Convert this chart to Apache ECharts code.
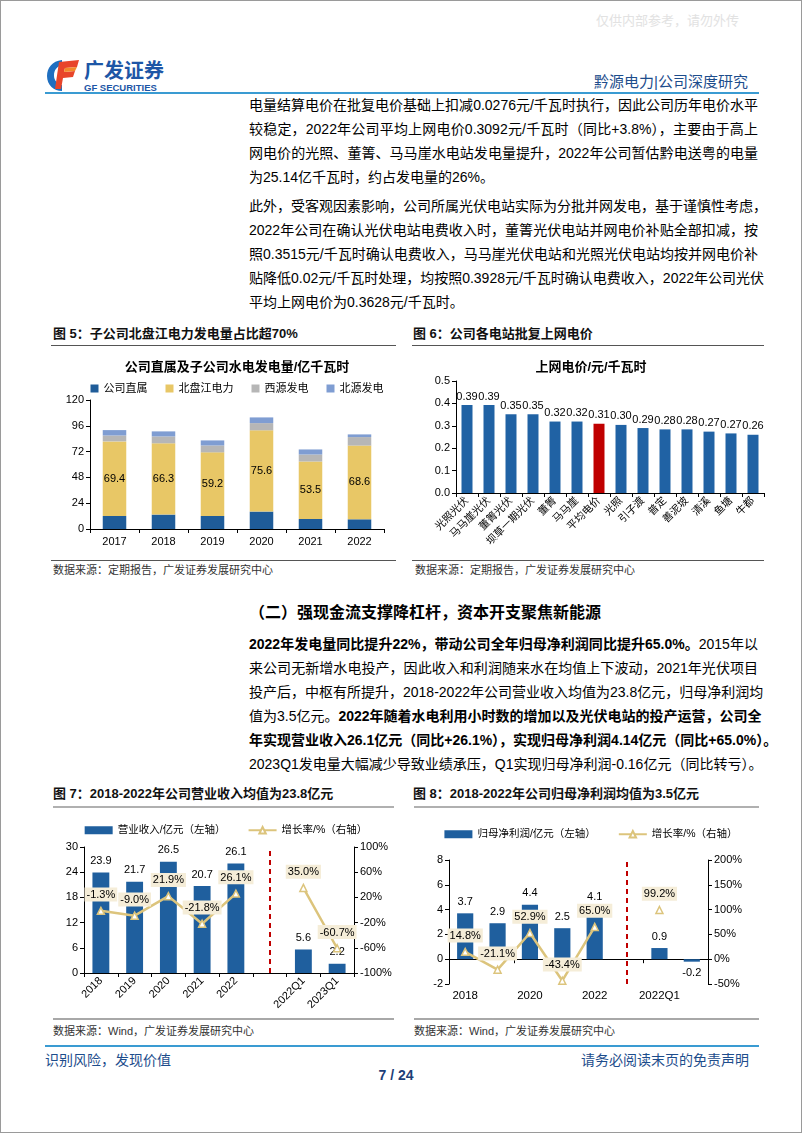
<!DOCTYPE html>
<html><head><meta charset="utf-8">
<script src="https://cdn.jsdelivr.net/npm/echarts@6/dist/echarts.min.js"></script>
<style>
body{margin:0;background:#fff;}
#page{position:relative;width:802px;height:1133px;overflow:hidden;font-family:"Liberation Sans","Noto Sans CJK SC",sans-serif;color:#000;box-sizing:border-box;border:1px solid #9a9a9a;}
.a{position:absolute;}
.ln{position:absolute;left:248px;width:509px;font-size:14px;line-height:20px;height:20px;white-space:nowrap;text-align:justify;text-align-last:justify;}
.ln.last{text-align:left;text-align-last:left;}
.cap{position:absolute;font-size:13px;font-weight:bold;line-height:16px;white-space:nowrap;color:#111;}
.src{position:absolute;font-size:11px;line-height:14px;color:#333;white-space:nowrap;}
.hl{position:absolute;height:0;}
.chart{position:absolute;}
</style></head>
<body>
<div id="page">
  <div class="a" style="left:595px;top:9px;font-size:13px;color:#e2e2e2;white-space:nowrap;">仅供内部参考，请勿外传</div>
  <!-- logo -->
  <svg class="a" style="left:44px;top:55px" width="124" height="38" viewBox="0 0 124 38">
    <path d="M17 4 C7 5 2 12 2 20 C2 29 9 35 17 35 L17 29 C12 28 9 24 9 19.5 C9 14 12 10 17 9.5 Z" fill="#1f6fc0"/>
    <path d="M14 6 L34 4 L32 11 L20 12 L19 16 L30 15 L28 21 L18 22 L16 33 L10 33 Z" fill="#e8452a"/>
    <path d="M20 12 L32 11 L30 15 L19 16 Z" fill="#f28a2a"/>
    <text x="39" y="22" font-size="20" font-weight="bold" fill="#1d56a6" font-family="Noto Sans CJK SC">广发证券</text>
    <text x="39" y="35" font-size="9.5" font-weight="bold" fill="#1d56a6" font-family="Liberation Sans">GF SECURITIES</text>
  </svg>
  <div class="a" style="right:53px;top:69px;font-size:15px;color:#1d4d8c;white-space:nowrap;">黔源电力|公司深度研究</div>
  <div class="hl" style="left:44px;top:91px;width:714px;border-top:2px solid #3a9bd2;"></div>

  <div class="ln" style="top:94px">电量结算电价在批复电价基础上扣减0.0276元/千瓦时执行，因此公司历年电价水平</div>
  <div class="ln" style="top:118px">较稳定，2022年公司平均上网电价0.3092元/千瓦时（同比+3.8%），主要由于高上</div>
  <div class="ln" style="top:142px">网电价的光照、董箐、马马崖水电站发电量提升，2022年公司暂估黔电送粤的电量</div>
  <div class="ln last" style="top:166px">为25.14亿千瓦时，约占发电量的26%。</div>

  <div class="ln" style="top:195px">此外，受客观因素影响，公司所属光伏电站实际为分批并网发电，基于谨慎性考虑，</div>
  <div class="ln" style="top:219px">2022年公司在确认光伏电站电费收入时，董箐光伏电站并网电价补贴全部扣减，按</div>
  <div class="ln" style="top:243px">照0.3515元/千瓦时确认电费收入，马马崖光伏电站和光照光伏电站均按并网电价补</div>
  <div class="ln" style="top:267px">贴降低0.02元/千瓦时处理，均按照0.3928元/千瓦时确认电费收入，2022年公司光伏</div>
  <div class="ln last" style="top:291px">平均上网电价为0.3628元/千瓦时。</div>

  <div class="cap" style="left:52px;top:325px">图 5：子公司北盘江电力发电量占比超70%</div>
  <div class="cap" style="left:412px;top:325px">图 6：公司各电站批复上网电价</div>
  <div class="hl" style="left:50px;top:344px;width:345px;border-top:1px solid #555;"></div>
  <div class="hl" style="left:411px;top:344px;width:352px;border-top:1px solid #555;"></div>

  <div id="c5" class="chart" style="left:50px;top:350px;width:372px;height:205px;"></div>
  <div id="c6" class="chart" style="left:405px;top:350px;width:370px;height:205px;"></div>

  <div class="hl" style="left:50px;top:559px;width:345px;border-top:1px solid #555;"></div>
  <div class="hl" style="left:411px;top:559px;width:352px;border-top:1px solid #555;"></div>
  <div class="src" style="left:52px;top:562px">数据来源：定期报告，广发证券发展研究中心</div>
  <div class="src" style="left:414px;top:562px">数据来源：定期报告，广发证券发展研究中心</div>

  <div class="a" style="left:248px;top:602px;font-size:16px;font-weight:bold;line-height:20px;white-space:nowrap;">（二）强现金流支撑降杠杆，资本开支聚焦新能源</div>

  <div class="ln" style="top:633px"><b>2022年发电量同比提升22%，带动公司全年归母净利润同比提升65.0%。</b>2015年以</div>
  <div class="ln" style="top:657px">来公司无新增水电投产，因此收入和利润随来水在均值上下波动，2021年光伏项目</div>
  <div class="ln" style="top:681px">投产后，中枢有所提升，2018-2022年公司营业收入均值为23.8亿元，归母净利润均</div>
  <div class="ln" style="top:705px">值为3.5亿元。<b>2022年随着水电利用小时数的增加以及光伏电站的投产运营，公司全</b></div>
  <div class="ln" style="top:729px"><b>年实现营业收入26.1亿元（同比+26.1%），实现归母净利润4.14亿元（同比+65.0%）。</b></div>
  <div class="ln last" style="top:753px">2023Q1发电量大幅减少导致业绩承压，Q1实现归母净利润-0.16亿元（同比转亏）。</div>

  <div class="cap" style="left:52px;top:785px">图 7：2018-2022年公司营业收入均值为23.8亿元</div>
  <div class="cap" style="left:412px;top:785px">图 8：2018-2022年公司归母净利润均值为3.5亿元</div>
  <div class="hl" style="left:52px;top:805px;width:341px;border-top:2px solid #b0b0b0;"></div>
  <div class="hl" style="left:413px;top:805px;width:345px;border-top:2px solid #b0b0b0;"></div>

  <div id="c7" class="chart" style="left:50px;top:810px;width:350px;height:205px;"></div>
  <div id="c8" class="chart" style="left:405px;top:810px;width:370px;height:205px;"></div>

  <div class="hl" style="left:52px;top:1017px;width:341px;border-top:2px solid #a8a8a8;"></div>
  <div class="hl" style="left:413px;top:1017px;width:345px;border-top:2px solid #a8a8a8;"></div>
  <div class="src" style="left:52px;top:1023px">数据来源：Wind，广发证券发展研究中心</div>
  <div class="src" style="left:413px;top:1023px">数据来源：Wind，广发证券发展研究中心</div>

  <div class="hl" style="left:44px;top:1044px;width:714px;border-top:2px solid #3a9bd2;"></div>
  <div class="a" style="left:44px;top:1048px;font-size:14px;color:#1d4d8c;white-space:nowrap;">识别风险，发现价值</div>
  <div class="a" style="right:52px;top:1048px;font-size:14px;color:#1d4d8c;white-space:nowrap;">请务必阅读末页的免责声明</div>
  <div class="a" style="left:0;width:790px;top:1066px;text-align:center;font-size:14px;font-weight:bold;color:#1d3f78;">7 / 24</div>
</div>

<script>
// ---------- data ----------
// Figure 5: hydropower generation (亿千瓦时)
const years5 = ['2017','2018','2019','2020','2021','2022'];
const directOwned = [12.1, 13.4, 12.1, 16.2, 9.3, 9.0];
const beipanjiang = [69.4, 66.3, 59.2, 75.6, 53.5, 68.6];
const xiyuan = [5.5, 6.4, 6.4, 6.7, 6.5, 7.9];
const beiyuan = [5.0, 4.7, 4.7, 5.3, 4.7, 2.5];

// Figure 6: on-grid tariff (元/千瓦时)
const stations6 = ['光照光伏','马马崖光伏','董箐光伏','坝草一期光伏','董箐','马马崖','平均电价','光照','引子渡','普定','善泥坡','清溪','鱼塘','牛都'];
const prices6 = [0.3928, 0.3928, 0.3515, 0.3515, 0.319, 0.319, 0.3092, 0.304, 0.290, 0.284, 0.284, 0.274, 0.266, 0.260];
const highlight6 = '平均电价';

// Figure 7: revenue
const cats7 = ['2018','2019','2020','2021','2022','','2022Q1','2023Q1'];
const revenue7 = [23.9, 21.7, 26.5, 20.7, 26.1, null, 5.6, 2.2];
const revGrowth7 = [-1.3, -9.0, 21.9, -21.8, 26.1, null, 35.0, -60.7];
const rightTicks7 = [-100, -60, -20, 20, 60, 100];

// Figure 8: net profit
const cats8 = ['2018','2019','2020','2021','2022','','2022Q1','2023Q1'];
const profit8 = [3.7, 2.9, 4.4, 2.5, 4.1, null, 0.9, -0.2];
const profitGrowth8 = [14.8, -21.1, 52.9, -43.4, 65.0, null, 99.2, null];

// ---------- styles ----------
const FONT = '"Liberation Sans","Noto Sans CJK SC",sans-serif';
const BLUE = '#1f5f9e';
const GOLD = '#dcc47c';
const axisLine = {show: true, onZero: false, lineStyle: {color: '#000', width: 1}};
const axisTick = {show: true, length: 4, lineStyle: {color: '#000'}};
const lbl = (size) => ({fontSize: size, color: '#000', fontFamily: FONT});

// ---------- Figure 5 ----------
const c5 = echarts.init(document.getElementById('c5'), null, {renderer: 'canvas'});
c5.setOption({
  animation: false,
  textStyle: {fontFamily: FONT},
  title: {text: '公司直属及子公司水电发电量/亿千瓦时', left: 'center', top: 5,
    textStyle: {fontSize: 13, fontWeight: 'bold', color: '#000', fontFamily: FONT}},
  legend: {top: 27, left: 'center', icon: 'rect', itemWidth: 8, itemHeight: 8, itemGap: 18,
    textStyle: lbl(11)},
  grid: {left: 39, right: 39, top: 49, bottom: 27},
  xAxis: {type: 'category', data: years5, axisLine, axisTick, axisLabel: Object.assign({margin: 7}, lbl(11))},
  yAxis: {type: 'value', min: 0, max: 120, interval: 24, axisLine, axisTick,
    splitLine: {show: false}, axisLabel: Object.assign({margin: 6}, lbl(11))},
  series: [
    {name: '公司直属', type: 'bar', stack: 't', data: directOwned, barWidth: '48%', itemStyle: {color: '#1f5c99'}},
    {name: '北盘江电力', type: 'bar', stack: 't', data: beipanjiang, itemStyle: {color: '#e8c766'},
      label: {show: true, position: 'inside', formatter: p => p.value.toFixed(1), ...lbl(11)}},
    {name: '西源发电', type: 'bar', stack: 't', data: xiyuan, itemStyle: {color: '#b6b6b6'}},
    {name: '北源发电', type: 'bar', stack: 't', data: beiyuan, itemStyle: {color: '#7f9dd2'}}
  ]
});

// ---------- Figure 6 ----------
const c6 = echarts.init(document.getElementById('c6'));
c6.setOption({
  animation: false,
  textStyle: {fontFamily: FONT},
  title: {text: '上网电价/元/千瓦时', left: 'center', top: 5,
    textStyle: {fontSize: 13, fontWeight: 'bold', color: '#000', fontFamily: FONT}},
  grid: {left: 50, right: 12, top: 30, bottom: 63},
  xAxis: {type: 'category', data: stations6, axisLine, axisTick,
    axisLabel: Object.assign({rotate: 45, interval: 0, margin: 6}, lbl(10.5))},
  yAxis: {type: 'value', min: 0, max: 0.5, interval: 0.1, axisLine, axisTick,
    splitLine: {show: false}, axisLabel: Object.assign({margin: 6, formatter: v => v.toFixed(1)}, lbl(11))},
  series: [{
    type: 'bar', barWidth: '50%',
    data: prices6.map((v, i) => ({value: v, itemStyle: {color: stations6[i] === highlight6 ? '#c00000' : '#2062a4'}})),
    label: {show: true, position: 'top', distance: 3, formatter: p => p.value.toFixed(2), ...lbl(11)}
  }]
});

// ---------- Figure 7 ----------
const lineLabel = {show: true, position: 'top', distance: 5, formatter: p => p.value.toFixed(1) + '%',
  backgroundColor: '#f5edd8', padding: [2, 2, 1, 2], ...lbl(11)};
const c7 = echarts.init(document.getElementById('c7'));
c7.setOption({
  animation: false,
  textStyle: {fontFamily: FONT},
  legend: {top: 9, left: 'center', itemWidth: 28, itemHeight: 8, itemGap: 22, textStyle: lbl(10.5),
    data: [{name: '营业收入/亿元（左轴）', icon: 'rect'}, {name: '增长率/%（右轴）'}]},
  grid: {left: 33, right: 47, top: 36, bottom: 43},
  xAxis: {type: 'category', data: cats7, axisLine, axisTick,
    axisLabel: Object.assign({rotate: 45, interval: 0, margin: 6}, lbl(11))},
  yAxis: [
    {type: 'value', min: 0, max: 30, interval: 6, axisLine, axisTick, splitLine: {show: false},
      axisLabel: Object.assign({margin: 6}, lbl(11))},
    {type: 'value', min: -100, max: 100, interval: 20, position: 'right', axisLine, splitLine: {show: false},
      axisTick: Object.assign({customValues: rightTicks7}, axisTick),
      axisLabel: Object.assign({margin: 6, formatter: '{value}%', customValues: rightTicks7}, lbl(11))}
  ],
  series: [
    {name: '营业收入/亿元（左轴）', type: 'bar', data: revenue7, barWidth: '50%', itemStyle: {color: BLUE},
      label: {show: true, position: 'top', distance: 6, formatter: p => p.value.toFixed(1), ...lbl(11)},
      markLine: {silent: true, symbol: ['none', 'none'], label: {show: false},
        lineStyle: {color: '#c00000', type: [5, 4], width: 2}, data: [{xAxis: 5}]}},
    {name: '增长率/%（右轴）', type: 'line', yAxisIndex: 1, data: revGrowth7, connectNulls: false,
      symbol: 'triangle', symbolSize: 7, lineStyle: {color: GOLD, width: 2.5},
      itemStyle: {color: '#fff', borderColor: GOLD, borderWidth: 1.5}, label: lineLabel, z: 5}
  ]
});

// ---------- Figure 8 ----------
const c8 = echarts.init(document.getElementById('c8'));
c8.setOption({
  animation: false,
  textStyle: {fontFamily: FONT},
  legend: {top: 13, left: 'center', itemWidth: 28, itemHeight: 8, itemGap: 22, textStyle: lbl(10.5),
    data: [{name: '归母净利润/亿元（左轴）', icon: 'rect'}, {name: '增长率/%（右轴）'}]},
  grid: {left: 43, right: 68, top: 49, bottom: 32},
  xAxis: [
    {type: 'category', data: cats8, position: 'bottom',
      axisLine: {show: true, onZero: true, lineStyle: {color: '#000', width: 1}}, axisTick,
      axisLabel: {show: false}},
    {type: 'category', data: cats8, position: 'bottom', axisLine: {show: false, onZero: false},
      axisTick: {show: false}, axisLabel: Object.assign({interval: 1, margin: 6}, lbl(11.5))}
  ],
  yAxis: [
    {type: 'value', min: -2, max: 8, interval: 2, axisLine, axisTick, splitLine: {show: false},
      axisLabel: Object.assign({margin: 6}, lbl(11))},
    {type: 'value', min: -50, max: 200, interval: 50, position: 'right', axisLine, axisTick,
      splitLine: {show: false}, axisLabel: Object.assign({margin: 6, formatter: '{value}%'}, lbl(11))}
  ],
  series: [
    {name: '归母净利润/亿元（左轴）', type: 'bar', barWidth: '50%', itemStyle: {color: BLUE},
      data: profit8.map(v => v === null ? null : (v < 0 ? {value: v, label: {position: 'bottom'}} : v)),
      label: {show: true, position: 'top', distance: 6, formatter: p => p.value.toFixed(1), ...lbl(11)},
      markLine: {silent: true, symbol: ['none', 'none'], label: {show: false},
        lineStyle: {color: '#c00000', type: [5, 4], width: 2}, data: [{xAxis: 5}]}},
    {name: '增长率/%（右轴）', type: 'line', yAxisIndex: 1, data: profitGrowth8, connectNulls: false,
      symbol: 'triangle', symbolSize: 7, lineStyle: {color: GOLD, width: 2.5},
      itemStyle: {color: '#fff', borderColor: GOLD, borderWidth: 1.5}, label: lineLabel, z: 5}
  ]
});
</script>
</body></html>
